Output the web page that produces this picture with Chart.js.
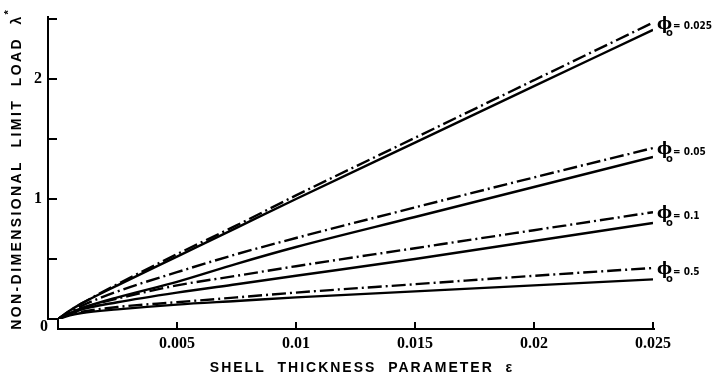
<!DOCTYPE html>
<html>
<head>
<meta charset="utf-8">
<script src="https://cdn.jsdelivr.net/npm/chart.js@4.4.1/dist/chart.umd.min.js"></script>
<style>
    html, body { margin: 0; padding: 0; background: #fff; }
    canvas { display: block; }
</style>
</head>
<body>
<canvas id="limitChart" width="717" height="382"></canvas>
<script>
// shell thickness parameter (x)
const epsValues = [0, 0.0005, 0.001, 0.0025, 0.005, 0.0075, 0.01, 0.015, 0.02, 0.025];

// limit load, dash-dot and solid curve for each phi_o
const phiLabels = ['0.025', '0.05', '0.1', '0.5'];
const dashDot025 = [0, 0.07, 0.13, 0.29, 0.54, 0.78, 1.03, 1.51, 1.99, 2.47];
const solid025   = [0, 0.07, 0.13, 0.28, 0.52, 0.76, 1.00, 1.47, 1.94, 2.41];
const dashDot05  = [0, 0.06, 0.11, 0.23, 0.39, 0.54, 0.675, 0.93, 1.18, 1.425];
const solid05    = [0, 0.05, 0.09, 0.18, 0.31, 0.46, 0.60, 0.85, 1.10, 1.35];
const dashDot1   = [0, 0.05, 0.09, 0.17, 0.28, 0.36, 0.44, 0.59, 0.74, 0.89];
const solid1     = [0, 0.04, 0.08, 0.14, 0.22, 0.29, 0.36, 0.50, 0.65, 0.80];
const dashDot5   = [0, 0.04, 0.06, 0.10, 0.14, 0.18, 0.22, 0.29, 0.36, 0.425];
const solid5     = [0, 0.03, 0.05, 0.08, 0.12, 0.15, 0.18, 0.23, 0.28, 0.33];

// axis ticks
const xTicks = [0, 0.005, 0.01, 0.015, 0.02, 0.025];
const xTickLabels = ['', '0.005', '0.01', '0.015', '0.02', '0.025'];
const yTicks = [0, 0.5, 1, 1.5, 2, 2.5];
const yTickLabels = ['', '', '1', '', '2', ''];

const dashDotSeries = [dashDot025, dashDot05, dashDot1, dashDot5];
const solidSeries = [solid025, solid05, solid1, solid5];

function toPoints(values) {
    return epsValues.map((e, i) => ({ x: e, y: values[i] }));
}

const datasets = [];
phiLabels.forEach((phi, i) => {
    datasets.push({
        label: 'phi ' + phi + ' dash-dot',
        data: toPoints(dashDotSeries[i]),
        borderColor: '#000',
        borderWidth: 2.4,
        borderDash: [14, 4, 2, 4],
        pointRadius: 0,
        cubicInterpolationMode: 'monotone',
        phi: phi
    });
    datasets.push({
        label: 'phi ' + phi + ' solid',
        data: toPoints(solidSeries[i]),
        borderColor: '#000',
        borderWidth: 2.4,
        pointRadius: 0,
        cubicInterpolationMode: 'monotone'
    });
});

// axes, tick marks, "0", titles and curve labels
const decorPlugin = {
    id: 'decor',
    afterDraw(chart) {
        const ctx = chart.ctx;
        const xs = chart.scales.x;
        const ys = chart.scales.y;
        const x0 = xs.getPixelForValue(0);
        const y0 = ys.getPixelForValue(0);
        const yAxisX = x0 - 10;
        const xAxisY = y0 + 10;

        ctx.save();
        ctx.strokeStyle = '#000';
        ctx.lineWidth = 2;
        ctx.beginPath();
        ctx.moveTo(yAxisX, ys.getPixelForValue(2.5) - 3);
        ctx.lineTo(yAxisX, y0);
        ctx.lineTo(x0, y0);
        ctx.lineTo(x0, xAxisY);
        ctx.lineTo(xs.getPixelForValue(0.025) + 2, xAxisY);
        ctx.stroke();

        yTicks.forEach(v => {
            if (v === 0) return;
            const py = ys.getPixelForValue(v);
            ctx.beginPath();
            ctx.moveTo(yAxisX, py);
            ctx.lineTo(yAxisX + 9, py);
            ctx.stroke();
        });
        xTicks.forEach(v => {
            if (v === 0) return;
            const px = xs.getPixelForValue(v);
            ctx.beginPath();
            ctx.moveTo(px, xAxisY);
            ctx.lineTo(px, xAxisY - 7);
            ctx.stroke();
        });

        ctx.fillStyle = '#000';
        ctx.font = 'bold 16px "Liberation Serif"';
        ctx.textAlign = 'center';
        ctx.textBaseline = 'middle';
        ctx.fillText('0', yAxisX - 4, y0 + 8);

        // x title
        ctx.font = 'bold 14px "Liberation Sans"';
        ctx.letterSpacing = '2px';
        ctx.fillText('SHELL  THICKNESS  PARAMETER  \u03b5', 362, 368);

        // y title
        ctx.save();
        ctx.translate(17, 172);
        ctx.rotate(-Math.PI / 2);
        ctx.letterSpacing = '2.4px';
        const yTitle = 'NON-DIMENSIONAL  LIMIT  LOAD  \u03bb';
        ctx.fillText(yTitle, 0, 0);
        const w = ctx.measureText(yTitle).width;
        ctx.font = 'bold 11px "Liberation Sans"';
        ctx.fillText('*', w / 2 + 3, -8);
        ctx.restore();

        // phi_o labels at the curve ends
        ctx.letterSpacing = '0px';
        ctx.textAlign = 'left';
        chart.data.datasets.forEach((ds, i) => {
            if (!ds.phi) return;
            const meta = chart.getDatasetMeta(i);
            const last = meta.data[meta.data.length - 1];
            const lx = last.x + 4;
            const ly = last.y + 2;
            ctx.font = 'bold 16px "DejaVu Serif"';
            ctx.fillText('\u03d5', lx, ly);
            ctx.font = 'bold 10px "DejaVu Sans"';
            ctx.fillText('o', lx + 9, ly + 9);
            ctx.font = 'bold 10px "DejaVu Sans Condensed", "DejaVu Sans"';
            ctx.fillText('= ' + ds.phi, lx + 16, ly + 2);
        });
        ctx.restore();
    }
};

const chart = new Chart(document.getElementById('limitChart'), {
    type: 'line',
    data: { datasets: datasets },
    options: {
        responsive: false,
        animation: false,
        layout: { padding: { top: 19, right: 64, left: 0, bottom: 0 } },
        plugins: {
            legend: { display: false },
            tooltip: { enabled: false }
        },
        scales: {
            x: {
                type: 'linear',
                min: 0,
                max: 0.025,
                border: { display: false },
                grid: { display: false },
                afterBuildTicks: scale => { scale.ticks = xTicks.map(v => ({ value: v })); },
                afterFit: scale => { scale.height = 63; },
                ticks: {
                    padding: 7,
                    maxRotation: 0,
                    color: '#000',
                    font: { family: '"Liberation Serif"', size: 16, weight: 'bold' },
                    callback: (v, i) => xTickLabels[i]
                }
            },
            y: {
                type: 'linear',
                min: 0,
                max: 2.5,
                border: { display: false },
                grid: { display: false },
                afterBuildTicks: scale => { scale.ticks = yTicks.map(v => ({ value: v })); },
                afterFit: scale => { scale.width = 58; },
                ticks: {
                    padding: 8,
                    color: '#000',
                    font: { family: '"Liberation Serif"', size: 16, weight: 'bold' },
                    callback: (v, i) => yTickLabels[i]
                }
            }
        }
    },
    plugins: [decorPlugin]
});
</script>
</body>
</html>
